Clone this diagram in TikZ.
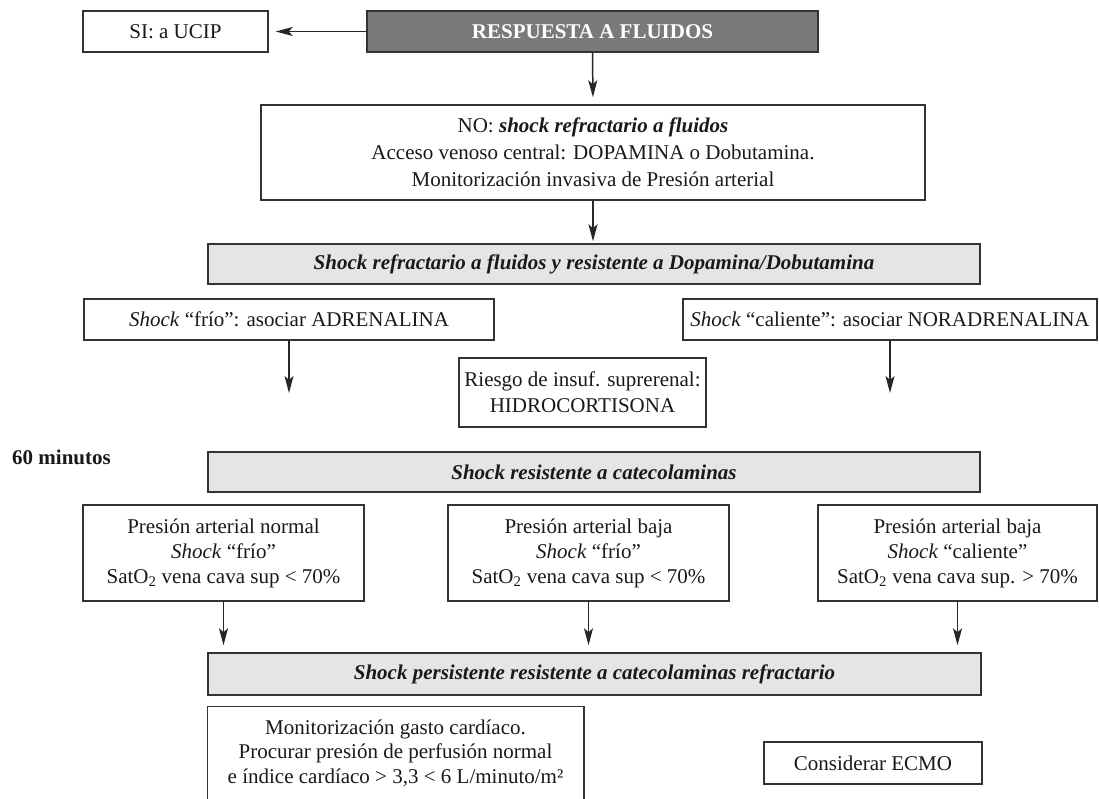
\documentclass[tikz,border=0pt]{standalone}
\usepackage{fontspec}
\setmainfont{Liberation Serif}
\usetikzlibrary{arrows.meta,calc}
\begin{document}
\begin{tikzpicture}[x=1pt,y=-1pt,
  box/.style={draw=black!80, line width=1.5pt, fill=white, align=center, inner sep=0pt, text=black!90, font=\fontsize{21}{26}\selectfont},
  graybox/.style={box, fill=black!10, font=\fontsize{21}{26}\selectfont\bfseries\itshape},
  darkbox/.style={box, fill=black!52, text=white, font=\fontsize{21}{26}\selectfont\bfseries},
  boxline/.style={draw=black!80, line width=1.5pt},
  arr/.style={draw=black!85, line width=1.5pt, -{Stealth[length=17pt,width=9pt,inset=4pt]}}]
\useasboundingbox (0,0) rectangle (1099,799);
\fill[white] (0,0) rectangle (1099,799);

\node[box, minimum width=185pt, minimum height=41pt] (si) at (175.5,31.5) {SI: a UCIP};
\node[darkbox, minimum width=451pt, minimum height=41pt] (resp) at (592.5,31.5) {RESPUESTA A FLUIDOS};
\node[box, minimum width=664pt, minimum height=95pt, font=\fontsize{21}{27}\selectfont] (no) at (593,152.5)
  {NO: \textbf{\textit{shock refractario a fluidos}}\\Acceso venoso central: DOPAMINA o Dobutamina.\\Monitorización invasiva de Presión arterial};
\node[graybox, minimum width=772pt, minimum height=40pt] (ref) at (594,264)
  {Shock refractario a fluidos y resistente a Dopamina/Dobutamina};
\node[box, minimum width=410pt, minimum height=41pt] (frio) at (289,319.5)
  {\textit{Shock} “frío”: asociar ADRENALINA};
\node[box, minimum width=414pt, minimum height=41pt] (cal) at (890,319.5)
  {\textit{Shock} “caliente”: asociar NORADRENALINA};
\node[box, minimum width=247pt, minimum height=69pt] (riesgo) at (582.5,392.5)
  {Riesgo de insuf. suprerenal:\\HIDROCORTISONA};
\coordinate (frioend) at (289,393);
\coordinate (calend) at (890,393);
\node[anchor=west, inner sep=0pt, text=black!90, font=\fontsize{21}{26}\selectfont\bfseries] (sixty) at (12,457) {60 minutos};
\node[graybox, minimum width=772pt, minimum height=40pt] (res) at (594,472)
  {Shock resistente a catecolaminas};
\node[box, minimum width=281pt, minimum height=96pt, font=\fontsize{21}{25}\selectfont] (b1) at (223.5,553)
  {Presión arterial normal\\\textit{Shock} “frío”\\SatO\textsubscript{2} vena cava sup < 70\%};
\node[box, minimum width=281pt, minimum height=96pt, font=\fontsize{21}{25}\selectfont] (b2) at (588.5,553)
  {Presión arterial baja\\\textit{Shock} “frío”\\SatO\textsubscript{2} vena cava sup < 70\%};
\node[box, minimum width=279pt, minimum height=96pt, font=\fontsize{21}{25}\selectfont] (b3) at (957.5,553)
  {Presión arterial baja\\\textit{Shock} “caliente”\\SatO\textsubscript{2} vena cava sup. > 70\%};
\node[graybox, minimum width=773pt, minimum height=42pt] (per) at (594.5,674)
  {Shock persistente resistente a catecolaminas refractario};
\node[box, draw=none, fill=none, minimum width=375pt, minimum height=92pt, font=\fontsize{21}{24.5}\selectfont] (mon) at (395.5,753)
  {Monitorización gasto cardíaco.\\Procurar presión de perfusión normal\\e índice cardíaco > 3,3 < 6 L/minuto/m²};
\draw[boxline] ($(mon.south west)+(0,20)$) -- (mon.north west) -- (mon.north east) -- ($(mon.south east)+(0,20)$);
\node[box, minimum width=218pt, minimum height=42pt] (ecmo) at (873,763) {Considerar ECMO};

\draw[arr, shorten >=7pt] (resp.west) -- (si.east);
\draw[arr, shorten >=7pt] (resp.south) -- (no.north);
\draw[arr, shorten >=2pt] (no.south) -- (no.south |- ref.north);
\draw[arr] (frio.south) -- (frioend);
\draw[arr] (cal.south) -- (calend);
\draw[arr, shorten >=7pt] (b1.south) -- (b1.south |- per.north);
\draw[arr, shorten >=7pt] (b2.south) -- (b2.south |- per.north);
\draw[arr, shorten >=7pt] (b3.south) -- (b3.south |- per.north);
\end{tikzpicture}
\end{document}
